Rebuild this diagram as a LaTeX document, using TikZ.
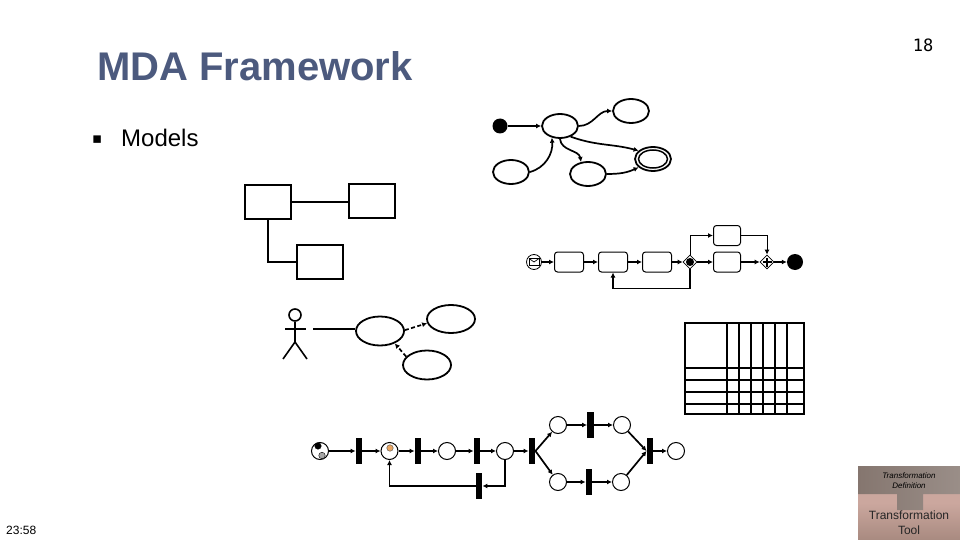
\documentclass[tikz,border=0pt]{standalone}
\usepackage{fontspec}
\setmainfont{Liberation Sans}
\newfontfamily\pagefont{DejaVu Sans Mono}
\newfontfamily\symfont{DejaVu Sans}
\usepackage{xcolor}
\usetikzlibrary{shapes.geometric,arrows.meta,positioning}
\definecolor{titleblue}{HTML}{4C5A7E}
\definecolor{toolpink}{HTML}{CBA79E}
\definecolor{tooldark}{HTML}{A88A80}
\definecolor{defgrey}{HTML}{9A8E88}
\definecolor{defdark}{HTML}{85766F}

\begin{document}
\begin{tikzpicture}[
  x=1pt,y=-1pt,
  node distance=14pt and 14pt,
  state/.style={ellipse,draw,line width=1.8pt,inner sep=0pt,minimum width=36pt,minimum height=24pt},
  usecase/.style={ellipse,draw,line width=1.8pt,inner sep=0pt,minimum width=48pt,minimum height=29pt},
  klass/.style={rectangle,draw,line width=2pt,inner sep=0pt,minimum width=46pt,minimum height=34pt},
  task/.style={rectangle,rounded corners=3pt,draw,line width=1pt,inner sep=0pt,minimum width=29pt,minimum height=20pt},
  gate/.style={diamond,draw,line width=.7pt,inner sep=0pt,minimum size=14pt},
  place/.style={circle,draw,line width=1pt,inner sep=0pt,minimum size=17pt},
  trans/.style={rectangle,fill=black,inner sep=0pt,minimum width=6.5pt,minimum height=26pt},
  token/.style={circle,draw,line width=.4pt,inner sep=0pt,minimum size=6.5pt},
  blob/.style={circle,fill=black,inner sep=0pt},
  arr/.style={-{Latex[length=5pt,width=5pt]},line width=1.7pt},
  thinarr/.style={-{Latex[length=5pt,width=5pt]},line width=1pt},
  dasharr/.style={arr,dash pattern=on 4pt off 2.5pt},
  line/.style={line width=2pt}
]
\useasboundingbox (0,0) rectangle (960,540);

% slide texts
\node[anchor=base west,inner sep=0pt,font=\bfseries\fontsize{40}{40}\selectfont,text=titleblue] (title) at (97,81) {MDA Framework};
\node[anchor=base west,inner sep=0pt,font=\symfont\fontsize{15}{15}\selectfont] (bullet) at (92,143.5) {▪};
\node[anchor=base west,inner sep=0pt,font=\fontsize{24}{24}\selectfont] (models) at (121,147) {Models};
\node[anchor=base,inner sep=0pt,font=\pagefont\fontsize{17}{17}\selectfont] (pageno) at (923,52) {18};
\node[anchor=base west,inner sep=0pt,font=\fontsize{12}{12}\selectfont] (clock) at (6,534.5) {23:58};

% state machine
\node[blob,minimum size=15pt] (init) at (500,126) {};
\node[state] (sta) at (560,126) {};
\node[state] (stb) at (631,111) {};
\node[state] (stc) at (511,172) {};
\node[state] (std) at (588,174) {};
\node[state] (fin) at (653,159) {};
\node[ellipse,draw,line width=1.5pt,inner sep=0pt,minimum width=29pt,minimum height=18pt] (finin) at (653,159) {};
\draw[arr] (init)--(sta);
\draw[arr] (sta.east) to[out=0,in=180] (stb.west);
\draw[arr] (sta.-45) to[out=-20,in=165] (fin.150);
\draw[arr] (sta.-90) to[out=-85,in=100] (std.120);
\draw[arr] (stc.east) to[out=15,in=-85] (sta.-125);
\draw[arr] (std.east) to[out=0,in=-155] (fin.-150);

% class diagram
\node[klass] (cla) at (268,201.5) {};
\node[klass] (clb) at (372,201) {};
\node[klass] (clc) at (320,262) {};
\draw[line] (cla.east)--(clb.west |- cla.east);
\draw[line] (cla.south) |- (clc.west);

% business process
\node[circle,draw,line width=.8pt,inner sep=0pt,minimum size=15pt] (msg) at (534,262) {};
\draw[line width=.7pt] ([shift={(-5,-3.5)}]msg.center) rectangle ([shift={(5,3.5)}]msg.center);
\draw[line width=.7pt] ([shift={(-5,-3.5)}]msg.center) -- (msg.center) -- ([shift={(5,-3.5)}]msg.center);
\node[task] (tka) at (569,262) {};
\node[task,right=of tka] (tkb) {};
\node[task,right=of tkb] (tkc) {};
\node[gate] (gwa) at (690,262) {};
\node[blob,minimum size=8pt] (gwadot) at (gwa.center) {};
\node[task,minimum width=27pt] (tkd) at (727,262) {};
\node[task,minimum width=27pt] (tke) at (727,235.5) {};
\node[gate] (gwb) at (767,262) {};
\draw[line width=2.2pt] ([xshift=-4.5pt]gwb.center) -- ([xshift=4.5pt]gwb.center);
\draw[line width=2.2pt] ([yshift=-4.5pt]gwb.center) -- ([yshift=4.5pt]gwb.center);
\node[blob,minimum size=16pt] (bpend) at (795,262) {};
\foreach \a/\b in {msg/tka,tka/tkb,tkb/tkc,tkc/gwa,gwa/tkd,tkd/gwb,gwb/bpend}{
  \draw[arr] (\a)--(\b);
}
\draw[thinarr] (gwa.north) |- (tke.west);
\draw[thinarr] (tke.east) -| (gwb.north);
\draw[arr] (gwa.south) |- ([yshift=-16pt]tkb.south) -- (tkb.south);

% use cases
\node[circle,draw,line width=1.6pt,inner sep=0pt,minimum size=12pt] (head) at (295,315) {};
\coordinate (hip) at (295,342);
\coordinate (armA) at (285,329);
\coordinate (armB) at (306,329);
\coordinate (legA) at (283,359);
\coordinate (legB) at (307,359);
\draw[line width=1.6pt] (head.south)--(hip);
\draw[line width=1.6pt] (armA)--(armB);
\draw[line width=1.6pt] (legA)--(hip)--(legB);
\coordinate (actor) at (313,329);
\node[usecase] (uca) at (380,331) {};
\node[usecase,minimum height=28pt] (ucb) at (451,319) {};
\node[usecase] (ucc) at (427,365) {};
\draw[line] (actor)--(uca.west |- actor);
\draw[dasharr] (uca.2)--(ucb.-170);
\draw[dasharr] (ucc.158)--(uca.-40);

% table
\draw[line] (685,323) rectangle (804,414);
\foreach \x in {727,739,751,763,775,787}{
  \draw[line] (\x,323)--(\x,414);
}
\foreach \y in {368,380,392,404}{
  \draw[line] (685,\y)--(804,\y);
}

% petri net
\node[place] (pa) at (320,451) {};
\node[token,fill=black,draw=black] (tokA) at (318,446) {};
\node[token,fill=gray!70,draw=black] (tokB) at (322,455.5) {};
\node[trans] (ta) at (359,451) {};
\node[place] (pb) at (389.5,451) {};
\node[token,fill=orange!50!brown!70,draw=black!70] (tokC) at (390,448) {};
\node[trans] (tb) at (418,451) {};
\node[place] (pc) at (447,451) {};
\node[trans] (tc) at (477,451) {};
\node[place] (pd) at (505,451) {};
\node[trans] (td) at (532,451) {};
\node[place] (pe) at (558,425) {};
\node[trans] (te) at (590.5,425) {};
\node[place] (pf) at (622,425) {};
\node[place] (pg) at (558,482) {};
\node[trans] (tf) at (589,482) {};
\node[place] (ph) at (621,482) {};
\node[trans] (tg) at (650,451) {};
\node[place] (pi) at (676,451) {};
\node[trans] (th) at (479,486) {};
\foreach \a/\b in {pa/ta,ta/pb,pb/tb,tb/pc,pc/tc,tc/pd,pd/td,td.east/pe,td.east/pg,pe/te,te/pf,pg/tf,tf/ph,pf/tg.west,ph/tg.west,tg/pi}{
  \draw[arr] (\a)--(\b);
}
\draw[arr] (pd.south) |- (th.east);
\draw[arr] (th.west) -| (pb.south);

% transformation tool
\shade[top color=toolpink,bottom color=tooldark,middle color=toolpink] (858,466) rectangle (960,540);
\shade[left color=defdark,right color=defgrey] (858,466) -- (960,466) -- (960,494) -- (923,494) -- (923,510) -- (897,510) -- (897,494) -- (858,494) -- cycle;
\node[align=center,inner sep=0pt,font=\itshape\fontsize{8}{9.5}\selectfont] (trdef) at (909,480.5) {Transformation\\Definition};
\node[align=center,inner sep=0pt,font=\fontsize{12}{15}\selectfont,text=black!85] (trtool) at (909,523) {Transformation\\Tool};
\end{tikzpicture}
\end{document}
